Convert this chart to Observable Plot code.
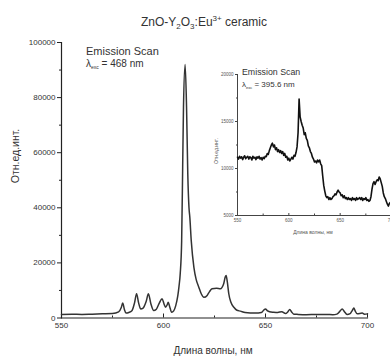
<!DOCTYPE html>
<html>
<head>
<meta charset="utf-8">
<script src="https://cdn.jsdelivr.net/npm/d3@7"></script>
<script src="https://cdn.jsdelivr.net/npm/@observablehq/plot@0.6"></script>
<style>
  html, body { margin: 0; padding: 0; background: #fff; overflow: hidden; }
  #wrap { position: relative; width: 390px; height: 356px; overflow: hidden; font-family: "Liberation Sans", Arial, sans-serif; }
  #wrap svg { position: absolute; }
</style>
</head>
<body>
<div id="wrap"></div>
<script>
// ---- Data ----
const title = "ZnO-Y2O3:Eu3+ ceramic";
const xLabel = "Длина волны, нм";
const yLabel = "Отн.ед.инт.";
const mainXTicks = [550, 600, 650, 700];
const mainXMinor = [575, 625, 675];
const mainYTicks = [0, 20000, 40000, 60000, 80000, 100000];
const mainYMinor = [10000, 30000, 50000, 70000, 90000];
const insetXTicks = [550, 600, 650, 700];
const insetXMinor = [575, 625, 675];
const insetYTicks = [5000, 10000, 15000, 20000];
const insetYMinor = [7500, 12500, 17500];

// Main emission spectrum (λexc = 468 nm)
const mainNm = [550,555,560,565,570,575,578,579.3,580,580.8,581.6,583,584.5,585.8,586.8,587.8,588.8,590,591.5,592.6,593.8,595.2,596.5,598,599.3,600.3,601,601.8,602.3,603,604,605,606,607,607.6,608.2,608.9,609.4,609.8,610.6,611.3,611.9,612.5,612.9,613.6,614.9,616,617.3,618.5,619.8,621.4,622.5,623.8,626,627.9,629.5,630.3,630.7,631.3,632,633,634.5,636,637.7,640,645,648,649.2,650,651,652,654,656,658,659.8,661,661.9,662.8,663.9,666,670,675,680,683,685,686.4,687.6,688.6,690,691.5,692.5,693.3,694,695,697.4,698.5,700];
const mainVal = [1300,1400,1300,1400,1500,1600,2200,3800,5400,3200,1800,2000,2600,5500,8800,5500,3300,3600,6000,8800,5200,2700,3200,5500,7000,5000,3900,4800,5700,4200,2100,2600,4500,8000,11500,16100,28000,55000,76500,92000,76500,52400,40000,36600,28100,18400,14000,11200,8800,7500,8200,9500,10600,10800,10600,12400,15000,15400,13000,8800,5800,3900,2800,2500,2000,1800,2000,2900,3300,2600,2300,2100,2000,2300,1600,2300,3100,2200,1400,1300,1200,1300,1300,1200,1400,2400,3300,2400,1300,1600,2700,3600,2500,1500,1800,1400,1500];

// Inset spectrum (λexc = 395.6 nm), read at 1 nm steps
const insetNm = d3.range(550, 701, 1);
const insetVal = [11200,11000,11300,11100,11250,10950,11200,11350,11050,11200,
 11300,11000,11250,11150,10900,11300,11100,11200,10950,11250,
 11100,11300,11000,11150,10900,11200,11050,11300,11250,11600,
 11500,11900,12200,12500,12700,12300,12500,12000,12200,11800,
 12000,11700,11900,11600,11800,11400,11600,11200,11300,10900,
 11100,10800,11000,11200,11000,11400,11300,11700,12300,13800,
 17400,15500,15000,14600,14300,13600,13800,13200,13000,12400,
 12200,11800,11600,11200,11000,10700,10800,10600,10900,10700,
 10900,10500,10300,9200,8200,7600,7100,6900,7000,6700,
 6900,6700,6800,7000,7100,7300,7200,7500,7700,7500,
 7400,7100,7200,6900,7100,6800,6900,6700,6900,6700,
 6800,6600,6900,6700,6800,6600,6900,6700,6800,6900,
 6700,6900,6600,6800,6700,6900,6600,6700,6500,6600,
 7000,7800,8400,8600,8300,8600,8800,8700,9100,8900,
 8500,8100,7400,7000,6800,6500,6200,6000,6300,6400,6200];

const mainData = mainNm.map((x, i) => ({x, y: mainVal[i]}));
const insetData = insetNm.map((x, i) => ({x, y: insetVal[i]}));

const wrap = document.getElementById("wrap");
const font = '"Liberation Sans", Arial, sans-serif';
const txt = "#333";

// ---- Main plot ----
const main = Plot.plot({
  width: 390, height: 356,
  marginLeft: 61, marginRight: 23, marginTop: 42, marginBottom: 38.5,
  x: {domain: [550, 700], label: null},
  y: {domain: [0, 100000], label: null},
  style: {fontFamily: font, background: "transparent", color: txt, overflow: "visible"},
  marks: [
    Plot.frame({anchor: "left", stroke: "#222", strokeWidth: 1.2}),
    Plot.frame({anchor: "bottom", stroke: "#222", strokeWidth: 1.2}),
    Plot.axisY({ticks: mainYTicks, tickSize: 4, tickPadding: 2, fontSize: 8, tickFormat: d => String(d), stroke: "#222"}),
    Plot.axisY({ticks: mainYMinor, tickSize: 2, tickFormat: () => "", stroke: "#222"}),
    Plot.axisX({ticks: mainXTicks, tickSize: -4, tickPadding: 8, fontSize: 8, tickFormat: d => String(d), stroke: "#222"}),
    Plot.axisX({ticks: mainXMinor, tickSize: -2, tickFormat: () => "", stroke: "#222"}),
    Plot.line(mainData, {x: "x", y: "y", stroke: "#333", strokeWidth: 1.5, curve: "monotone-x"})
  ]
});
main.style.left = "0px"; main.style.top = "0px";
wrap.appendChild(main);

// ---- Inset plot ----
const inset = Plot.plot({
  width: 200, height: 190,
  marginLeft: 37, marginRight: 9, marginTop: 19, marginBottom: 30,
  x: {domain: [550, 700], label: null},
  y: {domain: [5000, 20000], label: null},
  style: {fontFamily: font, background: "transparent", color: "#555", overflow: "visible"},
  marks: [
    Plot.frame({anchor: "left", stroke: "#444", strokeWidth: 1}),
    Plot.frame({anchor: "bottom", stroke: "#444", strokeWidth: 1}),
    Plot.axisY({ticks: insetYTicks, tickSize: 2, tickPadding: 2, fontSize: 4.5, tickFormat: d => String(d), stroke: "#444"}),
    Plot.axisY({ticks: insetYMinor, tickSize: 1, tickFormat: () => "", stroke: "#444"}),
    Plot.axisX({ticks: insetXTicks, tickSize: -2, tickPadding: 5, fontSize: 4.5, tickFormat: d => String(d), stroke: "#444"}),
    Plot.axisX({ticks: insetXMinor, tickSize: -1.5, tickFormat: () => "", stroke: "#444"}),
    Plot.line(insetData, {x: "x", y: "y", stroke: "#111", strokeWidth: 1.6})
  ]
});
inset.style.left = "200px"; inset.style.top = "55px";
wrap.appendChild(inset);

// ---- Text overlay ----
const ov = d3.select(wrap).append("svg")
  .attr("width", 390).attr("height", 356)
  .style("left", "0px").style("top", "0px")
  .attr("font-family", font).attr("fill", txt);

// Title with sub/superscripts
const t = ov.append("text").attr("x", 204).attr("y", 26).attr("text-anchor", "middle").attr("font-size", 12);
t.append("tspan").text("ZnO-Y");
t.append("tspan").attr("font-size", 8).attr("dy", 3).text("2");
t.append("tspan").attr("dy", -3).text("O");
t.append("tspan").attr("font-size", 8).attr("dy", 3).text("3");
t.append("tspan").attr("dy", -3).text(":Eu");
t.append("tspan").attr("font-size", 8).attr("dy", -5).text("3+");
t.append("tspan").attr("dy", 5).text(" ceramic");

// Axis labels
ov.append("text").attr("x", 213).attr("y", 354).attr("text-anchor", "middle").attr("font-size", 10).text(xLabel);
ov.append("text").attr("transform", "translate(19,156) rotate(-90)").attr("text-anchor", "middle").attr("font-size", 10.5).text(yLabel);

// Main annotation
ov.append("text").attr("x", 86).attr("y", 55).attr("font-size", 11).text("Emission Scan");
const l1 = ov.append("text").attr("x", 86).attr("y", 67).attr("font-size", 10);
l1.append("tspan").text("λ");
l1.append("tspan").attr("font-size", 5).attr("dy", 2).text("exc");
l1.append("tspan").attr("dy", -2).text(" = 468 nm");

// Inset annotation
ov.append("text").attr("x", 242).attr("y", 75).attr("font-size", 8.8).text("Emission Scan");
const l2 = ov.append("text").attr("x", 242).attr("y", 87).attr("font-size", 8);
l2.append("tspan").text("λ");
l2.append("tspan").attr("font-size", 4).attr("dy", 2).text("exc");
l2.append("tspan").attr("dy", -2).text(" = 395.6 nm");

// Inset axis labels
ov.append("text").attr("transform", "translate(218,151) rotate(-90)").attr("text-anchor", "middle").attr("font-size", 5).attr("fill", "#555").text(yLabel);
ov.append("text").attr("x", 313).attr("y", 234).attr("text-anchor", "middle").attr("font-size", 5).attr("fill", "#555").text(xLabel);
</script>
</body>
</html>
